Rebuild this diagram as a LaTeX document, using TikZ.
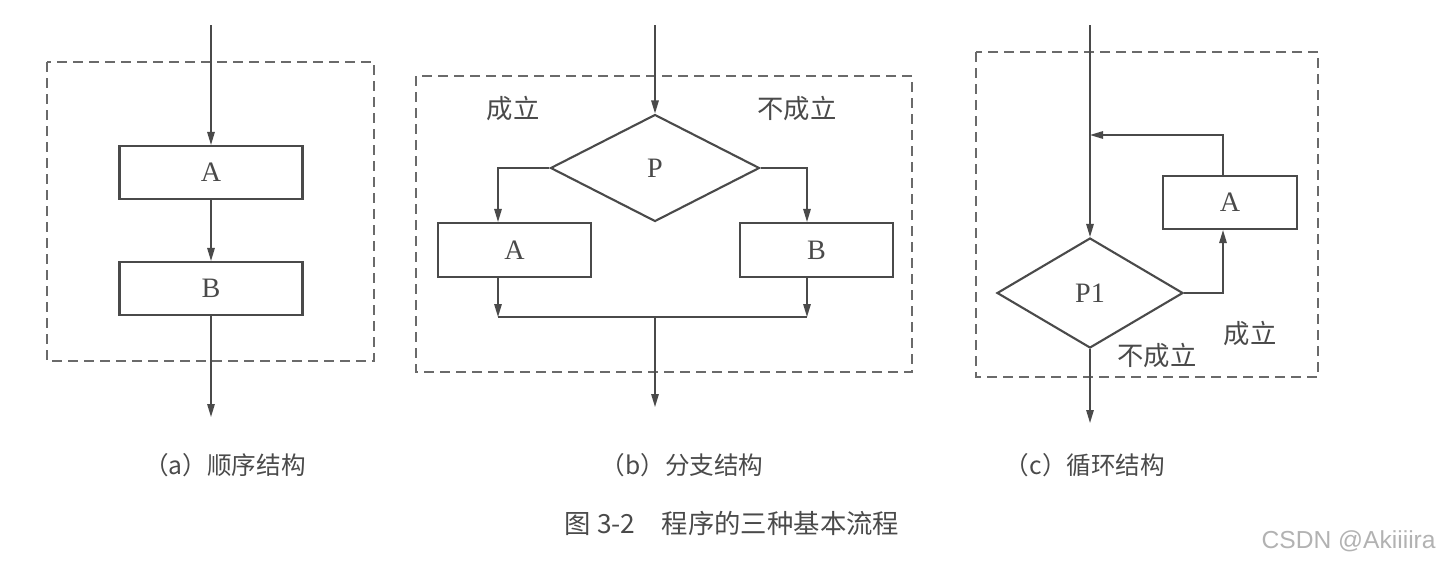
\documentclass[tikz,border=0pt]{standalone}
\usepackage{fontspec}
\setmainfont{Liberation Serif}
\newfontfamily\cjk{Noto Sans CJK SC}
\usetikzlibrary{arrows.meta,shapes.geometric}
\definecolor{inkgray}{HTML}{4A4A4A}
\definecolor{framegray}{HTML}{6A6A6A}

\begin{document}
\begin{tikzpicture}[
  x=0.2mm,y=-0.2mm,
  every node/.style={inner sep=0pt,align=center,text=inkgray},
  procbox/.style={draw=inkgray,line width=1.2pt,fill=white,font=\fontsize{16pt}{18pt}\selectfont},
  cond/.style={diamond,draw=inkgray,line width=1.2pt,fill=white,font=\fontsize{16pt}{18pt}\selectfont},
  frame/.style={draw=framegray,line width=0.6pt,dash pattern=on 2mm off 1.2mm},
  flow/.style={-{Triangle[length=2.6mm,width=1.5mm]},draw=inkgray,line width=0.8pt},
  link/.style={draw=inkgray,line width=0.8pt},
  branch/.style={font=\cjk\fontsize{15pt}{17pt}\selectfont},
  caption/.style={font=\cjk\fontsize{14pt}{16pt}\selectfont},
  title/.style={font=\cjk\fontsize{15pt}{17pt}\selectfont}
]
  \useasboundingbox (0,0) rectangle (1444,565);
  \draw[frame] (47,62) rectangle (374,361);
  \draw[frame] (416,76) rectangle (912,372);
  \draw[frame] (976,52) rectangle (1318,377);

  \coordinate (ina) at (211,25);
  \node[procbox,minimum width=3.66cm,minimum height=1.06cm] (sa) at (211,172.5) {A};
  \node[procbox,minimum width=3.66cm,minimum height=1.06cm] (sb) at (211,288.5) {B};
  \coordinate (outa) at (211,417);
  \draw[flow] (ina) -- (sa.north);
  \draw[flow] (sa.south) -- (sb.north);
  \draw[flow] (sb.south) -- (outa);

  \coordinate (inb) at (655,25);
  \node[cond,minimum width=4.18cm,minimum height=2.14cm] (pb) at (655,168) {P};
  \node[procbox,minimum width=3.06cm,minimum height=1.08cm] (ba) at (514.5,250) {A};
  \node[procbox,minimum width=3.06cm,minimum height=1.08cm] (bb) at (816.5,250) {B};
  \coordinate (jl) at (498,317);
  \coordinate (jr) at (807,317);
  \coordinate (jm) at (655,317);
  \coordinate (outb) at (655,407);
  \node[branch] (yb) at (513,108) {成立};
  \node[branch] (nb) at (797,108) {不成立};
  \draw[flow] (inb) -- (pb.north);
  \draw[flow] (pb.west) -| (ba.north -| jl);
  \draw[flow] (pb.east) -| (bb.north -| jr);
  \draw[flow] (ba.south -| jl) -- (jl);
  \draw[flow] (bb.south -| jr) -- (jr);
  \draw[link] (jl) -- (jr);
  \draw[flow] (jm) -- (outb);

  \coordinate (inc) at (1090,25);
  \node[cond,minimum width=3.72cm,minimum height=2.2cm] (pc) at (1090,293) {P1};
  \node[procbox,minimum width=2.68cm,minimum height=1.06cm] (ac) at (1230,202.5) {A};
  \coordinate (lc) at (1223,135);
  \coordinate (lm) at (1090,135);
  \coordinate (outc) at (1090,423);
  \node[branch] (yc) at (1250,333) {成立};
  \node[branch] (nc) at (1157,355) {不成立};
  \draw[flow] (inc) -- (pc.north);
  \draw[flow] (pc.east) -| (ac.south -| lc);
  \draw[flow] (ac.north -| lc) -- (lc) -- (lm);
  \draw[flow] (pc.south) -- (outc);

  \node[caption] (ca) at (225,465) {（a）顺序结构};
  \node[caption] (cb) at (682,465) {（b）分支结构};
  \node[caption] (cc) at (1085,465) {（c）循环结构};
  \node[title] (tt) at (732,523) {图 3-2\quad 程序的三种基本流程};
  \node[font=\fontfamily{}\fontspec{Liberation Sans}\fontsize{14pt}{16pt}\selectfont,text=black!30,anchor=east] (wm) at (1436,541) {CSDN @Akiiiira};
\end{tikzpicture}
\end{document}
